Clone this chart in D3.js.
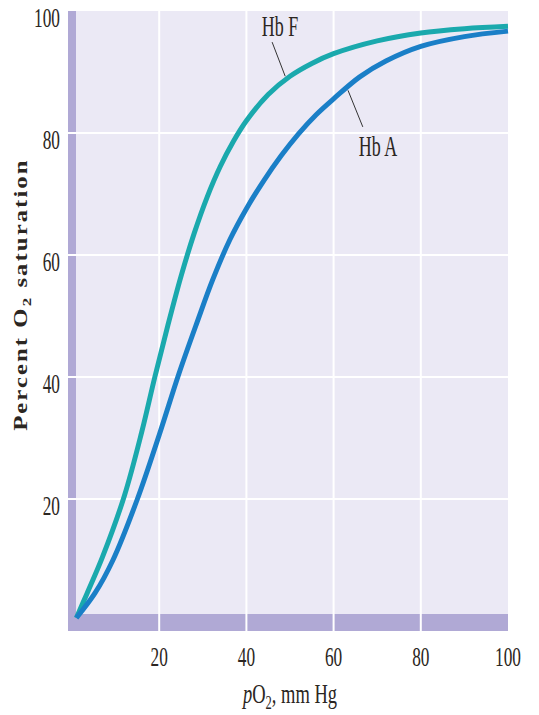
<!DOCTYPE html>
<html>
<head>
<meta charset="utf-8">
<script src="https://cdn.jsdelivr.net/npm/d3@7"></script>
<style>
  html, body { margin: 0; padding: 0; background: #fff; }
  text { font-family: "Liberation Serif", "DejaVu Serif", serif; fill: #2b2622; }
</style>
</head>
<body>
<div id="chart"></div>
<script>
// pO2 (mm Hg) and % saturation
var hbF_pO2 = [1, 3.5, 7, 12, 16, 19, 22, 25, 28, 31, 34, 37, 40, 45, 50, 55, 60, 70, 80, 90, 100]
var hbF_sat = [0.5, 4.6, 10.5, 20.5, 31, 40, 48.5, 56.5, 63.5, 69.5, 74.5, 78.6, 82, 86.3, 89.3, 91.4, 93, 95.1, 96.4, 97.1, 97.5]
var hbA_pO2 = [1, 5.3, 9.4, 15, 20, 24.5, 28.7, 32.3, 36.2, 40, 44, 48, 52, 56, 60, 66, 72, 80, 90, 100]
var hbA_sat = [0.5, 4.6, 10, 20, 30.5, 40.5, 49, 56, 62.5, 67.6, 72.2, 76.3, 79.9, 83, 85.6, 89.2, 91.8, 94.2, 95.8, 96.7]

var xTicks = [20, 40, 60, 80, 100]
var yTicks = [20, 40, 60, 80, 100]

var seriesNames  = ['Hb F', 'Hb A']
var seriesColors = ['#1aa9ad', '#1a7fc7']
// label position and leader line ends, in data units [pO2, sat]
var labelAt    = [[47.7, 95.9], [70.2, 76.2]]
var leaderFrom = [[45.9, 94.9], [63.3, 87.0]]
var leaderTo   = [[48.9, 89.3], [66.7, 81.0]]

var width = 539, height = 715

var svg = d3.select('#chart')
  .append('svg')
    .attr('width', width)
    .attr('height', height)

var x = d3.scaleLinear().domain([0, 100]).range([72, 508])
var y = d3.scaleLinear().domain([0, 100]).range([621, 11])

var panelLeft = x(0) - 4, panelRight = x(100)
var panelTop = y(100), panelBottom = y(0) + 10

// lavender panel
svg.append('rect')
  .attr('x', panelLeft).attr('y', panelTop)
  .attr('width', panelRight - panelLeft).attr('height', panelBottom - panelTop)
  .attr('fill', '#ebe9f5')

// darker axis bands
svg.append('rect')
  .attr('x', panelLeft).attr('y', panelTop)
  .attr('width', 8).attr('height', panelBottom - panelTop)
  .attr('fill', '#b0a9d5')
svg.append('rect')
  .attr('x', panelLeft).attr('y', panelBottom - 17)
  .attr('width', panelRight - panelLeft).attr('height', 17)
  .attr('fill', '#b0a9d5')

// white grid
svg.selectAll('.vgrid').data(xTicks.filter(d => d < 100)).enter()
  .append('line')
    .attr('x1', d => x(d)).attr('x2', d => x(d))
    .attr('y1', panelTop).attr('y2', panelBottom)
    .attr('stroke', '#fff').attr('stroke-width', 2)
svg.selectAll('.hgrid').data(yTicks.filter(d => d < 100)).enter()
  .append('line')
    .attr('x1', panelLeft).attr('x2', panelRight)
    .attr('y1', d => y(d)).attr('y2', d => y(d))
    .attr('stroke', '#fff').attr('stroke-width', 2)

// tick labels (narrow serif)
svg.selectAll('.ytick').data(yTicks).enter()
  .append('text')
    .attr('transform', d => 'translate(60,' + (y(d) + 16) + ') scale(0.64,1)')
    .attr('text-anchor', 'end')
    .attr('font-size', 27)
    .text(d => d)
svg.selectAll('.xtick').data(xTicks).enter()
  .append('text')
    .attr('transform', d => 'translate(' + x(d) + ',666) scale(0.64,1)')
    .attr('text-anchor', 'middle')
    .attr('font-size', 27)
    .text(d => d)

// x axis title
var xt = svg.append('text')
  .attr('transform', 'translate(' + x(50) + ',703) scale(0.66,1)')
  .attr('text-anchor', 'middle')
  .attr('font-size', 28)
xt.append('tspan').attr('font-style', 'italic').text('p')
xt.append('tspan').text('O')
xt.append('tspan').attr('font-size', 19).attr('dy', 6).text('2')
xt.append('tspan').attr('dy', -6).text(', mm Hg')

// y axis title
var yt = svg.append('text')
  .attr('transform', 'translate(27,' + y(53.5) + ') rotate(-90) scale(1.3,1)')
  .attr('text-anchor', 'middle')
  .attr('font-size', 19)
  .attr('font-weight', 'bold')
  .attr('letter-spacing', 1.6)
yt.append('tspan').text('Percent O')
yt.append('tspan').attr('font-size', 13).attr('dy', 4).text('2')
yt.append('tspan').attr('dy', -4).text(' saturation')

// leader lines
for (var i = 0; i < seriesNames.length; ++i) {
  svg.append('line')
    .attr('x1', x(leaderFrom[i][0])).attr('y1', y(leaderFrom[i][1]))
    .attr('x2', x(leaderTo[i][0])).attr('y2', y(leaderTo[i][1]))
    .attr('stroke', '#333').attr('stroke-width', 1)
}

// curves
var allPO2 = [hbF_pO2, hbA_pO2]
var allSat = [hbF_sat, hbA_sat]
var line = d3.line()
  .x(d => x(d[0]))
  .y(d => y(d[1]))
  .curve(d3.curveCatmullRom.alpha(0.5))

for (var i = 0; i < seriesNames.length; ++i) {
  var pts = allPO2[i].map((p, j) => [p, allSat[i][j]])
  svg.append('path')
    .datum(pts)
    .attr('fill', 'none')
    .attr('stroke', seriesColors[i])
    .attr('stroke-width', 5)
    .attr('d', line)
}

// curve labels
for (var i = 0; i < seriesNames.length; ++i) {
  svg.append('text')
    .attr('transform', 'translate(' + x(labelAt[i][0]) + ',' + y(labelAt[i][1]) + ') scale(0.62,1)')
    .attr('text-anchor', 'middle')
    .attr('font-size', 29)
    .text(seriesNames[i])
}
</script>
</body>
</html>
